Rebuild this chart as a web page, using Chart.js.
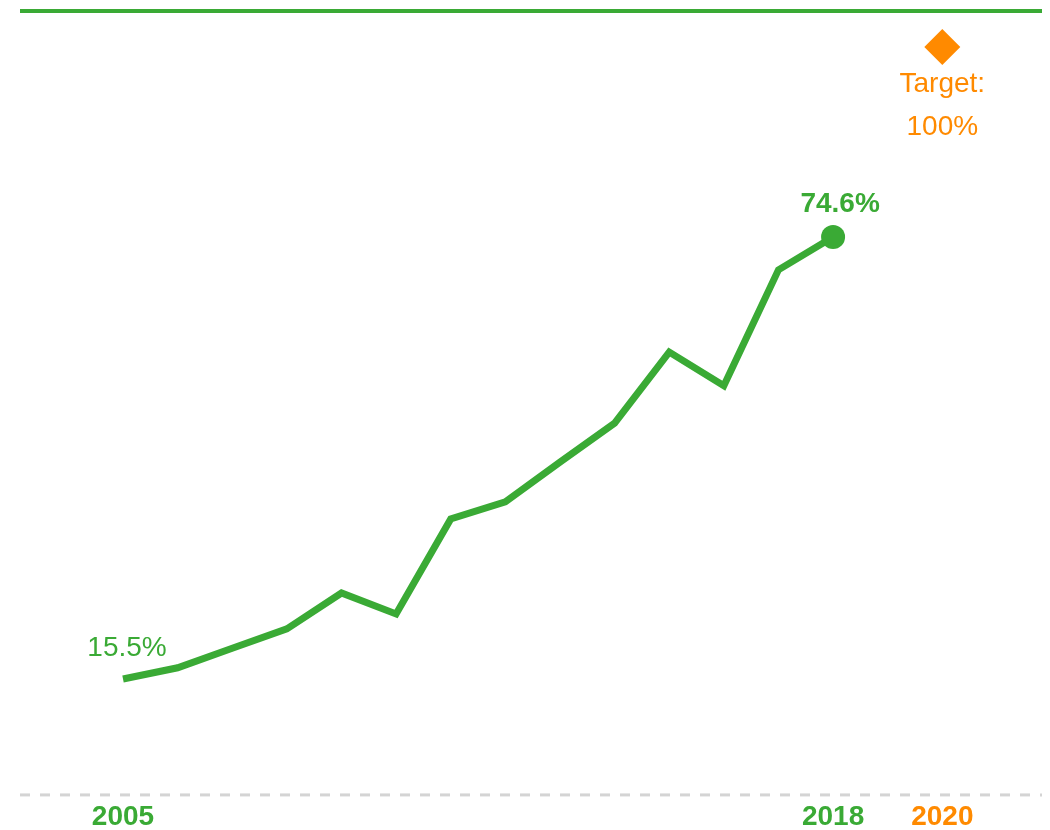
<!DOCTYPE html>
<html lang="en">
<head>
    <meta charset="UTF-8">
    <title>Share 2005-2018 vs 2020 target</title>
    <script src="https://cdn.jsdelivr.net/npm/chart.js"></script>
    <style>
        html, body { margin: 0; padding: 0; background: #fff; overflow: hidden; }
        canvas { display: block; }
    </style>
</head>
<body>
    <canvas id="shareChart" width="1050" height="830"></canvas>
    <script>
        const years = [2005, 2006, 2007, 2008, 2009, 2010, 2011, 2012, 2013, 2014, 2015, 2016, 2017, 2018];
        const shares = [15.5, 17.0, 19.6, 22.2, 27.0, 24.2, 36.9, 39.2, 44.5, 49.7, 59.2, 54.7, 70.2, 74.6];
        const targetYear = 2020;
        const targetValue = 100;
        const tickYears = [2005, 2018, 2020];

        const GREEN = '#3aaa35';
        const ORANGE = '#ff8a00';
        const FONT = '"Liberation Sans", Arial, sans-serif';

        const lastIdx = shares.length - 1;

        // frame line at top, dashed zero line, year labels and value labels
        const decorations = {
            id: 'decorations',
            beforeDatasetsDraw(chart) {
                const { ctx, chartArea, scales: { x, y } } = chart;
                ctx.save();
                ctx.strokeStyle = GREEN;
                ctx.lineWidth = 4;
                ctx.beginPath();
                ctx.moveTo(chartArea.left, 11);
                ctx.lineTo(chartArea.right, 11);
                ctx.stroke();

                const y0 = y.getPixelForValue(0);
                ctx.strokeStyle = '#d4d4d4';
                ctx.lineWidth = 3;
                ctx.setLineDash([10, 10]);
                ctx.beginPath();
                ctx.moveTo(chartArea.left, y0);
                ctx.lineTo(chartArea.right, y0);
                ctx.stroke();
                ctx.restore();
            },
            afterDatasetsDraw(chart) {
                const { ctx, scales: { x, y } } = chart;
                ctx.save();
                ctx.textAlign = 'center';
                ctx.textBaseline = 'middle';

                const y0 = y.getPixelForValue(0);
                ctx.font = 'bold 28px ' + FONT;
                tickYears.forEach(yr => {
                    ctx.fillStyle = yr === targetYear ? ORANGE : GREEN;
                    ctx.fillText(String(yr), x.getPixelForValue(yr), y0 + 22);
                });

                // first value
                ctx.fillStyle = GREEN;
                ctx.font = '28px ' + FONT;
                ctx.fillText(shares[0].toFixed(1) + '%',
                    x.getPixelForValue(years[0]) + 4, y.getPixelForValue(shares[0]) - 31);

                // last value
                ctx.font = 'bold 28px ' + FONT;
                ctx.fillText(shares[lastIdx].toFixed(1) + '%',
                    x.getPixelForValue(years[lastIdx]) + 7, y.getPixelForValue(shares[lastIdx]) - 33);

                // target
                const tx = x.getPixelForValue(targetYear);
                const ty = y.getPixelForValue(targetValue);
                ctx.fillStyle = ORANGE;
                ctx.font = '28px ' + FONT;
                ctx.fillText('Target:', tx, ty + 37);
                ctx.fillText(targetValue + '%', tx, ty + 80);
                ctx.restore();
            }
        };

        const ctx = document.getElementById('shareChart').getContext('2d');
        new Chart(ctx, {
            type: 'line',
            data: {
                datasets: [
                    {
                        label: 'Share',
                        data: years.map((yr, i) => ({ x: yr, y: shares[i] })),
                        borderColor: GREEN,
                        backgroundColor: GREEN,
                        borderWidth: 7,
                        borderJoinStyle: 'miter',
                        tension: 0,
                        pointRadius: shares.map((v, i) => i === lastIdx ? 12 : 0),
                        pointBorderWidth: 0,
                        pointHoverRadius: 0
                    },
                    {
                        label: 'Target',
                        data: [{ x: targetYear, y: targetValue }],
                        showLine: false,
                        pointStyle: 'rectRot',
                        pointRadius: 18,
                        pointBorderWidth: 0,
                        backgroundColor: ORANGE,
                        borderColor: ORANGE
                    }
                ]
            },
            options: {
                responsive: false,
                maintainAspectRatio: false,
                animation: false,
                devicePixelRatio: 1,
                layout: { autoPadding: false, padding: { left: 20, right: 8, top: 0, bottom: 0 } },
                plugins: {
                    legend: { display: false },
                    tooltip: { enabled: false }
                },
                scales: {
                    x: { type: 'linear', display: false, min: 2003.114, max: 2021.825 },
                    y: { display: false, min: -4.69, max: 106.28 }
                }
            },
            plugins: [decorations]
        });
    </script>
</body>
</html>
